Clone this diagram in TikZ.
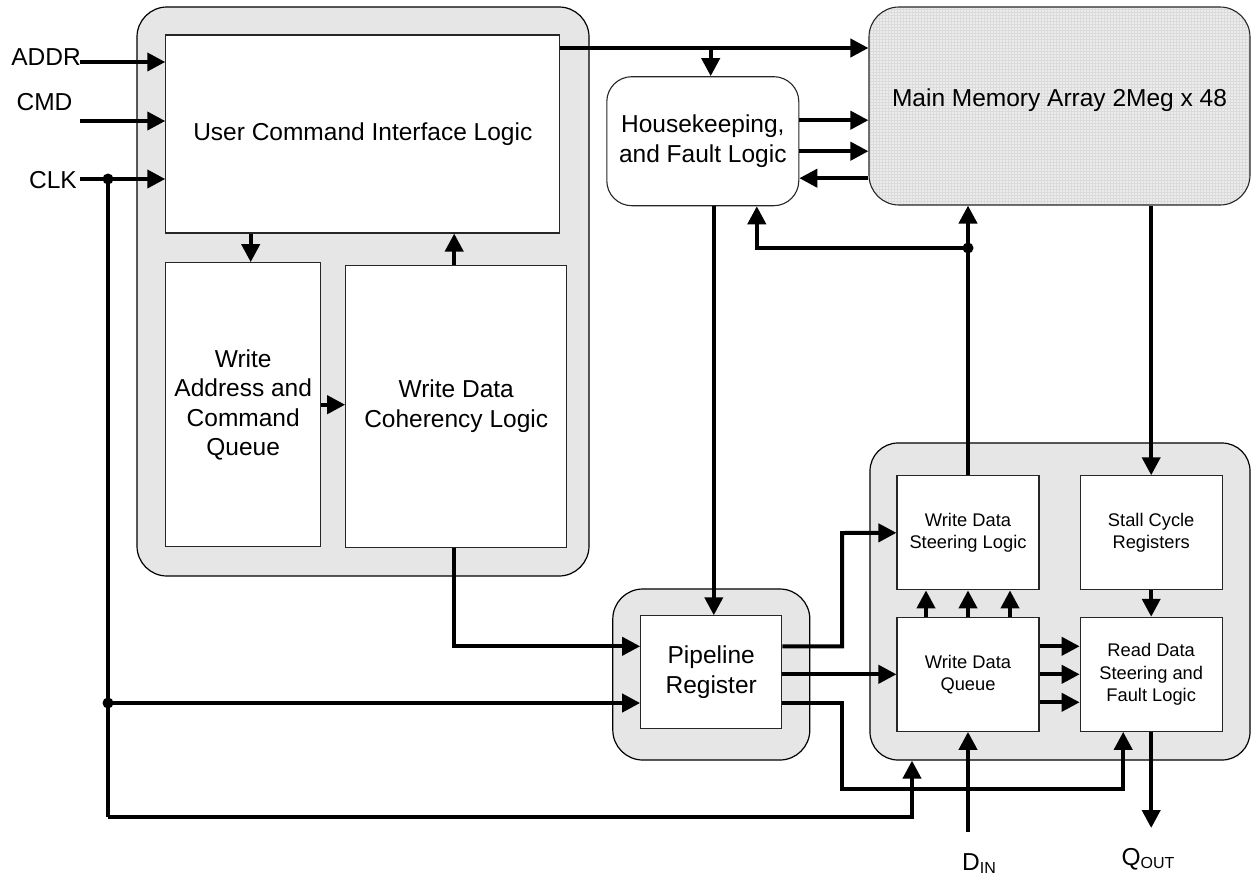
\documentclass[tikz,border=0pt]{standalone}
\usepackage{fontspec}
\setmainfont{Liberation Sans}
\usetikzlibrary{arrows.meta,patterns}
\definecolor{contgray}{RGB}{230,230,230}
\definecolor{memgray}{RGB}{236,236,236}
\newcommand\dgbig{\fontsize{24.5}{29.5}\selectfont}
\newcommand\dgsmall{\fontsize{18.3}{22.4}\selectfont}
\begin{document}
\begin{tikzpicture}[x=1pt,y=-1pt,
  cont/.style={draw=black, line width=1.2pt, fill=contgray, rounded corners=30pt, inner sep=0pt},
  box/.style={draw=black!85, line width=1.1pt, fill=white, inner sep=2pt, align=center, font=\dgbig},
  sbox/.style={box, font=\dgsmall, minimum width=142pt, minimum height=114pt},
  hkbox/.style={box, rounded corners=25pt},
  mmabox/.style={box, fill=memgray, preaction={fill=memgray}, pattern=grid, pattern color=black!14, rounded corners=30pt},
  lbl/.style={font=\dgbig, inner sep=0pt},
  wire/.style={line width=4pt},
  arr/.style={line width=4pt, -{Triangle[length=18pt,width=18pt]}}]
\useasboundingbox (0,0) rectangle (1251,879);
% containers and blocks
\node[cont, minimum width=452pt, minimum height=569pt] (leftc) at (363,291.5) {};
\node[box, minimum width=394pt, minimum height=198pt] (uci) at (362.8,134) {User Command Interface Logic};
\node[box, minimum width=155pt, minimum height=284pt] (waq) at (243.2,404.7) {Write\\Address and\\Command\\Queue};
\node[box, minimum width=221pt, minimum height=282pt] (wdc) at (456.2,406.2) {Write Data\\Coherency Logic};
\node[hkbox, minimum width=192pt, minimum height=129pt] (hk) at (702.8,141.2) {Housekeeping,\\and Fault Logic};
\node[mmabox, minimum width=381pt, minimum height=198pt] (mma) at (1059.5,106) {};
\node[font=\dgbig, inner sep=0pt] (mmat) at (1059.5,100) {Main Memory Array 2Meg x 48};
\node[cont, minimum width=197pt, minimum height=171pt] (plc) at (711.3,674.5) {};
\node[box, minimum width=141pt, minimum height=113pt] (pr) at (711.2,672.3) {Pipeline\\Register};
\node[cont, rounded corners=28pt, minimum width=380pt, minimum height=317pt] (rc) at (1060,601.5) {};
\node[sbox] (wds) at (968,532.8) {Write Data\\Steering Logic};
\node[sbox] (scr) at (1151.2,532.8) {Stall Cycle\\Registers};
\node[sbox] (wdq) at (968,674.3) {Write Data\\Queue};
\node[sbox] (rds) at (1151.2,674.3) {Read Data\\Steering and\\Fault Logic};
% labels
\node[lbl] (addr) at (46,57) {ADDR};
\node[lbl] (cmd) at (44.5,102) {CMD};
\node[lbl] (clk) at (53,180) {CLK};
\node[lbl] (dinl) at (979,864) {D\raisebox{-3pt}{\fontsize{16}{16}\selectfont IN}};
\node[lbl] (qoutl) at (1148,859) {Q\raisebox{-3pt}{\fontsize{16}{16}\selectfont OUT}};
% coordinates
\coordinate (addrin) at (80,62);
\coordinate (cmdin) at (80,121);
\coordinate (clkin) at (80,179);
\coordinate (clkdot) at (108,179);
\coordinate (clkdot2) at (108,703);
\coordinate (cb) at (108,817);
\coordinate (br1) at (710.7,48);
\coordinate (jx1) at (842,533);
\coordinate (jx2) at (842,789);
\coordinate (jdot) at (968,248);
\coordinate (din) at (968,832);
\coordinate (qout) at (1151.2,828);
% connectors
\draw[arr] (addrin) -- (addrin -| uci.west);
\draw[arr] (cmdin) -- (cmdin -| uci.west);
\draw[arr] (clkin) -- (clkin -| uci.west);
\draw[wire] (clkdot) -- (cb);
\draw[arr] (cb) -| ([xshift=-148pt]rc.south);
\draw[arr] (clkdot2) -- (clkdot2 -| pr.west);
\fill (clkdot) circle (5.5pt);
\fill (clkdot2) circle (5.5pt);
\draw[arr] ([xshift=7.5pt]waq.north |- uci.south) -- ([xshift=7.5pt]waq.north);
\draw[arr] ([xshift=-2pt]wdc.north) -- ([xshift=-2pt]wdc.north |- uci.south);
\draw[arr] (waq.east) -- (waq.east -| wdc.west);
\draw[arr] ([yshift=86pt]uci.east) -- ([yshift=86pt]uci.east -| mma.west);
\draw[arr] (br1) -- (br1 |- hk.north);
\draw[arr] ([yshift=21pt]hk.east) -- ([yshift=21pt]hk.east -| mma.west);
\draw[arr] ([yshift=-10pt]hk.east) -- ([yshift=-10pt]hk.east -| mma.west);
\draw[arr] ([yshift=-37pt]hk.east -| mma.west) -- ([yshift=-37pt]hk.east);
\draw[arr] ([xshift=11pt]hk.south) -- ([xshift=11pt]hk.south |- pr.north);
\draw[arr] ([xshift=-2pt]wdc.south) |- ([yshift=26pt]pr.west);
\draw[arr] ([yshift=26pt]pr.east) -| (jx1) -- (wds.west);
\draw[arr] (pr.east |- wdq.west) -- (wdq.west);
\draw[arr] ([yshift=-31pt]pr.east) -| (jx2) -| ([xshift=-28pt]rds.south);
\foreach \dx in {-42,0,42} \draw[arr] ([xshift=\dx pt]wdq.north) -- ([xshift=\dx pt]wds.south);
\foreach \dy in {28,0,-28} \draw[arr] ([yshift=\dy pt]wdq.east) -- ([yshift=\dy pt]wdq.east -| rds.west);
\draw[arr] (scr.south) -- (rds.north);
\draw[arr] (din) -- (wdq.south);
\draw[arr] (rds.south) -- (qout);
\draw[arr] (wds.north) -- (wds.north |- mma.south);
\draw[arr] (jdot) -| ([xshift=54pt]hk.south);
\fill (jdot) circle (5.5pt);
\draw[arr] (mma.south -| scr.north) -- (scr.north);
\end{tikzpicture}
\end{document}
